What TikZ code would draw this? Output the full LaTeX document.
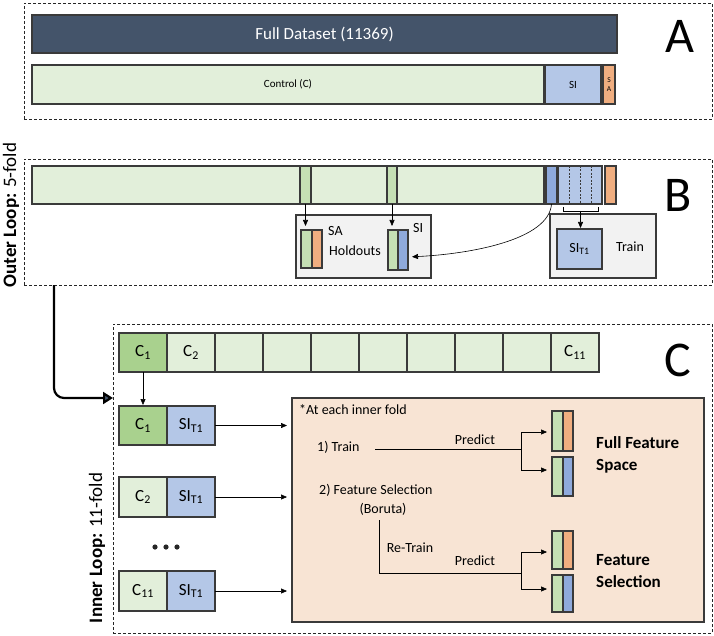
\documentclass[tikz,border=0pt]{standalone}
\usepackage{fontspec}
\setmainfont{Carlito}
\usetikzlibrary{arrows.meta}
\definecolor{dsl}{HTML}{44546A}
\definecolor{lgreen}{HTML}{E2EFDA}
\definecolor{mgreen}{HTML}{C5E0B4}
\definecolor{dgreen}{HTML}{A9D18E}
\definecolor{lblue}{HTML}{B4C7E7}
\definecolor{mblue}{HTML}{8FAADC}
\definecolor{orng}{HTML}{F0AE80}
\definecolor{peach}{HTML}{F8E4D4}
\definecolor{lgrey}{HTML}{F2F2F2}
\definecolor{edge}{HTML}{3A3A3A}
\begin{document}
\begin{tikzpicture}[x=1pt,y=-1pt,
  cell/.style={draw=edge, line width=1.1pt, inner sep=0pt, outer sep=0pt, anchor=north west},
  panel/.style={draw=black!85, dash pattern=on 3pt off 2pt, line width=0.9pt, inner sep=0pt, outer sep=0pt, anchor=north west},
  arr/.style={-{Triangle[length=6pt,width=5pt]}, line width=0.6pt},
  thinl/.style={line width=0.6pt},
  lbl/.style={font=\fontsize{14}{16}\selectfont, inner sep=0pt},
  cfont/.style={font=\fontsize{17}{20}\selectfont},
  big/.style={font=\fontsize{50}{50}\selectfont, inner sep=0pt},
  looplbl/.style={rotate=90, font=\fontsize{19}{22}\selectfont, inner sep=0pt},
  boldlbl/.style={font=\bfseries\fontsize{17}{22}\selectfont, align=left, anchor=west, inner sep=0pt},
]
\useasboundingbox (0,0) rectangle (714,636);

% ---------------- Panel A ----------------
\node[panel, minimum width=688pt, minimum height=116pt] (boxA) at (24,3) {};
\node[cell, fill=dsl, minimum width=585pt, minimum height=38pt, text=white, font=\fontsize{17}{20}\selectfont] (full) at (32,15) {Full Dataset (11369)};
\node[cell, fill=lgreen, minimum width=512pt, minimum height=39pt, font=\fontsize{11}{13}\selectfont] (ctrl) at (32,65) {Control (C)};
\node[cell, fill=lblue, minimum width=56pt, minimum height=39pt, font=\fontsize{11}{13}\selectfont] (siA) at (545,65) {SI};
\node[cell, fill=orng, minimum width=12pt, minimum height=39pt, font=\fontsize{7.5}{9}\selectfont, align=center] (saA) at (603,65) {S\\A};
\node[big] (lA) at (680,36) {A};

% ---------------- Panel B ----------------
\node[panel, minimum width=688pt, minimum height=126pt] (boxB) at (24,159) {};
\node[cell, fill=lgreen, minimum width=512pt, minimum height=38pt] (barB) at (32,166) {};
\node[cell, fill=mgreen, minimum width=11pt, minimum height=38pt] (h1) at (300,166) {};
\node[cell, fill=mgreen, minimum width=10pt, minimum height=38pt] (h2) at (387,166) {};
\node[cell, fill=mblue, minimum width=11pt, minimum height=38pt] (dkb) at (546,166) {};
\node[cell, fill=lblue, minimum width=44pt, minimum height=38pt] (ltb) at (558,166) {};
\foreach \dx in {11,22,33}
  \draw[draw=edge, line width=0.5pt, dash pattern=on 2pt off 1.5pt] ([xshift=\dx pt]ltb.north west) -- ([xshift=\dx pt]ltb.south west);
\node[cell, fill=orng, minimum width=11pt, minimum height=38pt] (orB) at (605,166) {};
\node[big] (lB) at (678,195) {B};

% bracket and Train box
\coordinate (brL) at (563,207);
\coordinate (brR) at (598,207);
\coordinate (brk) at (580.5,211);
\draw[thinl] (brL) -- (563,211) -- (598,211) -- (brR);
\node[cell, fill=lgrey, minimum width=106pt, minimum height=64pt] (trainbox) at (550,214) {};
\node[cell, fill=lblue, minimum width=45pt, minimum height=40pt, lbl] (sit) at (557,229) {SI\textsubscript{T1}};
\node[lbl] (traintxt) at (630,247) {Train};
\draw[arr, shorten >=1pt] (brk) -- (brk |- sit.north);

% Holdouts box
\node[cell, fill=lgrey, minimum width=135pt, minimum height=63pt] (hold) at (296,215) {};
\node[cell, fill=mgreen, minimum width=11pt, minimum height=38pt] (sag) at (301,230) {};
\node[cell, fill=orng, minimum width=10pt, minimum height=38pt] (sao) at (312,230) {};
\node[cell, fill=mgreen, minimum width=10pt, minimum height=40pt] (sig) at (388,230) {};
\node[cell, fill=mblue, minimum width=10pt, minimum height=40pt] (sib) at (398,230) {};
\node[lbl, anchor=west] (satxt) at (328,231) {SA};
\node[lbl] (holdtxt) at (355,251) {Holdouts};
\node[lbl, anchor=west] (sitxt) at (413,228) {SI};
\draw[arr, shorten >=4pt] (h1.south) -- (h1.south |- sag.north);
\draw[arr, shorten >=4pt] (h2.south) -- (h2.south |- sig.north);
\draw[arr, shorten >=4pt] (dkb.south) .. controls (549,240) and (470,254) .. ([yshift=-7pt]sib.east);

\node[looplbl] (outer) at (11,215) {\textbf{Outer Loop:} 5-fold};

% ---------------- Panel C ----------------
\node[panel, minimum width=599pt, minimum height=309pt] (boxC) at (113,324) {};
\foreach \i/\t/\f in {1/{C\textsubscript{1}}/dgreen,2/{C\textsubscript{2}}/lgreen,3/{}/lgreen,4/{}/lgreen,5/{}/lgreen,6/{}/lgreen,7/{}/lgreen,8/{}/lgreen,9/{}/lgreen,10/{C\textsubscript{11}}/lgreen}
  \node[cell, fill=\f, minimum width=48pt, minimum height=39pt, cfont] (c\i) at ({119+48*(\i-1)},333) {\t};
\node[big] (lC) at (678,360) {C};

\node[cell, fill=dgreen, minimum width=48pt, minimum height=39pt, cfont] (r1c) at (119,406) {C\textsubscript{1}};
\node[cell, fill=lblue, minimum width=48pt, minimum height=39pt, cfont] (r1s) at (167,406) {SI\textsubscript{T1}};
\node[cell, fill=lgreen, minimum width=48pt, minimum height=40pt, cfont] (r2c) at (119,477) {C\textsubscript{2}};
\node[cell, fill=lblue, minimum width=48pt, minimum height=40pt, cfont] (r2s) at (167,477) {SI\textsubscript{T1}};
\node[cell, fill=lgreen, minimum width=48pt, minimum height=40pt, cfont] (r3c) at (119,571) {C\textsubscript{11}};
\node[cell, fill=lblue, minimum width=48pt, minimum height=40pt, cfont] (r3s) at (167,571) {SI\textsubscript{T1}};
\foreach \x in {155,166,177}
  \fill[black!85] (\x,547) circle (2.6pt);
\node[looplbl] (inner) at (97,548) {\textbf{Inner Loop:} 11-fold};

\draw[arr, shorten >=1pt] (c1.south) -- (r1c.north);

\node[cell, fill=peach, minimum width=412pt, minimum height=224pt] (peach) at (292,398) {};
\draw[arr, shorten >=5pt] (r1s.east) -- (r1s.east -| peach.west);
\draw[arr, shorten >=5pt] (r2s.east) -- (r2s.east -| peach.west);
\draw[arr, shorten >=5pt] (r3s.east) -- (r3s.east -| peach.west);

% outer-to-inner arrow
\coordinate (ob) at ([xshift=30pt]boxB.south west);
\draw[line width=2.2pt, rounded corners=10pt, -{Triangle[length=10pt,width=12pt,fill=dsl]}] (ob) |- (boxC.west |- peach.north);

% peach content
\node[lbl, anchor=west] (note) at (299,410) {*At each inner fold};
\node[lbl, anchor=west] (tr1) at (317,447) {1) Train};
\node[lbl, anchor=west] (fsel) at (319,490) {2) Feature Selection};
\node[lbl] (bor) at (383,509) {(Boruta)};
\node[lbl] (rt) at (410,548) {Re-Train};
\node[lbl] (p1) at (475,440) {Predict};
\node[lbl] (p2) at (475,561) {Predict};

\node[cell, fill=mgreen, minimum width=11pt, minimum height=40pt] (pg1) at (552,411) {};
\node[cell, fill=orng, minimum width=10pt, minimum height=40pt] (po1) at (563,411) {};
\node[cell, fill=mgreen, minimum width=11pt, minimum height=39pt] (pg2) at (552,457) {};
\node[cell, fill=mblue, minimum width=10pt, minimum height=39pt] (pb2) at (563,457) {};
\node[cell, fill=mgreen, minimum width=11pt, minimum height=38pt] (pg3) at (552,531) {};
\node[cell, fill=orng, minimum width=10pt, minimum height=38pt] (po3) at (563,531) {};
\node[cell, fill=mgreen, minimum width=11pt, minimum height=37pt] (pg4) at (552,575) {};
\node[cell, fill=mblue, minimum width=10pt, minimum height=37pt] (pb4) at (563,575) {};

\coordinate (t0) at (375,449);
\coordinate (j1) at (521,449);
\coordinate (ja) at (521,432);
\coordinate (jb) at (521,470);
\draw[thinl] (t0) -- (j1);
\draw[thinl] (ja) -- (jb);
\draw[arr, shorten >=5pt] (ja) -- (ja -| pg1.west);
\draw[arr, shorten >=5pt] (jb) -- (jb -| pg2.west);

\coordinate (b0) at (379,520);
\coordinate (b1) at (521,573);
\coordinate (jc) at (521,552);
\coordinate (jd) at (521,589);
\draw[thinl] (b0) |- (b1);
\draw[thinl] (jc) -- (jd);
\draw[arr, shorten >=5pt] (jc) -- (jc -| pg3.west);
\draw[arr, shorten >=5pt] (jd) -- (jd -| pg4.west);

\node[boldlbl] (ffs) at (596,455) {Full Feature\\Space};
\node[boldlbl] (fsl) at (596,571) {Feature\\Selection};
\end{tikzpicture}
\end{document}
